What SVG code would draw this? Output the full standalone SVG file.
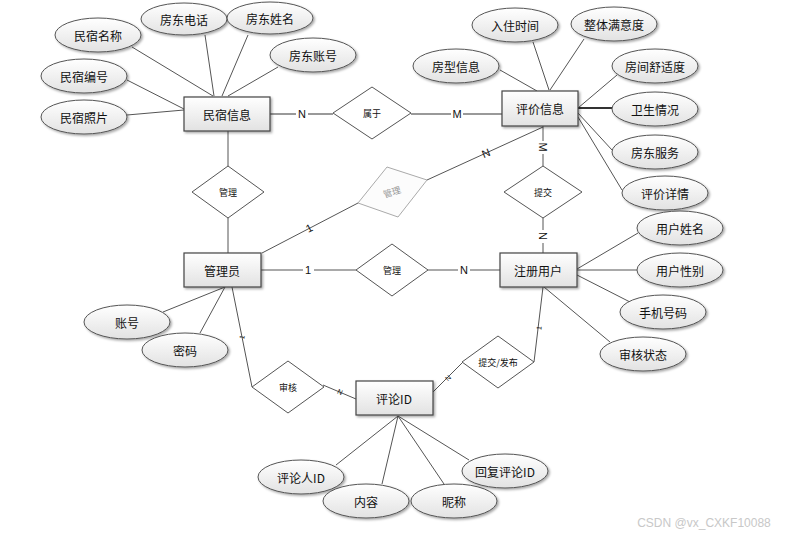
<svg xmlns="http://www.w3.org/2000/svg" width="788" height="541" viewBox="0 0 788 541">
<defs>
<linearGradient id="g" x1="0" y1="0" x2="0" y2="1"><stop offset="0" stop-color="#ffffff"/><stop offset="1" stop-color="#e2e2e2"/></linearGradient>
<filter id="sh" x="-20%" y="-20%" width="150%" height="160%"><feDropShadow dx="1.5" dy="1.5" stdDeviation="1" flood-color="#000" flood-opacity="0.35"/></filter>
<style>
.e{fill:url(#g);stroke:#555;stroke-width:1;filter:url(#sh)}
.r{fill:url(#g);stroke:#444;stroke-width:1.2;filter:url(#sh)}
.d{fill:#fff;stroke:#555;stroke-width:1}
.dg{fill:#fcfcfc;stroke:#aaa;stroke-width:1}
.t{font-family:"Noto Sans CJK SC","Liberation Sans",sans-serif;font-size:12px;fill:#111;text-anchor:middle;dominant-baseline:central}
.s{font-family:"Noto Sans CJK SC","Liberation Sans",sans-serif;font-size:9px;fill:#111;text-anchor:middle;dominant-baseline:central}
.l{font-family:"Liberation Sans",sans-serif;font-size:11px;fill:#111;text-anchor:middle;dominant-baseline:central}
.c line{stroke:#555;stroke-width:1}
.c .th{stroke:#999;stroke-width:2}
</style>
</defs>
<rect width="788" height="541" fill="#fff"/>
<g id="connectors" class="c">
<line x1="213" y1="96" x2="132" y2="47"/>
<line x1="214" y1="96" x2="205" y2="35"/>
<line x1="222" y1="96" x2="248" y2="35"/>
<line x1="228" y1="96" x2="278" y2="67"/>
<line x1="184" y1="109" x2="127" y2="80"/>
<line x1="184" y1="110" x2="127" y2="115"/>
<line class="th" x1="270" y1="114" x2="333" y2="114"/>
<line class="th" x1="411" y1="114" x2="502" y2="114"/>
<line x1="549" y1="90" x2="533" y2="42"/>
<line x1="550" y1="90" x2="584" y2="39"/>
<line x1="537" y1="91" x2="500" y2="70"/>
<line x1="578" y1="108" x2="617" y2="75"/>
<line x1="578" y1="108" x2="612" y2="108" style="stroke-width:2;stroke:#333"/>
<line x1="578" y1="113" x2="612" y2="150"/>
<line x1="578" y1="117" x2="622" y2="190"/>
<line x1="543" y1="126" x2="543" y2="166"/>
<line x1="543" y1="218" x2="543" y2="253"/>
<line x1="543" y1="127" x2="427" y2="180"/>
<line x1="262" y1="253" x2="358" y2="203"/>
<line x1="228" y1="131" x2="228" y2="166"/>
<line x1="228" y1="218" x2="228" y2="253"/>
<line x1="261" y1="270" x2="356" y2="270"/>
<line x1="428" y1="270" x2="500" y2="270"/>
<line x1="577" y1="269" x2="638" y2="233"/>
<line x1="577" y1="270" x2="637" y2="270"/>
<line x1="577" y1="275" x2="630" y2="302"/>
<line x1="544" y1="287" x2="610" y2="342"/>
<line x1="225" y1="287" x2="163" y2="312"/>
<line x1="225" y1="287" x2="200" y2="333"/>
<line x1="232" y1="287" x2="252" y2="387"/>
<line x1="323" y1="385" x2="356" y2="399"/>
<line x1="433" y1="392" x2="463" y2="362"/>
<line x1="534" y1="362" x2="543" y2="287"/>
<line x1="398" y1="416" x2="336" y2="465"/>
<line x1="398" y1="416" x2="382" y2="484"/>
<line x1="398" y1="416" x2="444" y2="484"/>
<line x1="398" y1="416" x2="469" y2="460"/>
</g>
<g id="labels">
<rect x="296" y="107" width="12" height="14" fill="#fff"/>
<text class="l" x="302" y="114">N</text>
<rect x="451" y="107" width="12" height="14" fill="#fff"/>
<text class="l" x="457" y="114">M</text>
<rect x="537" y="141" width="12" height="13" fill="#fff"/>
<text class="l" x="543" y="147" transform="rotate(90 543 147)">M</text>
<rect x="537" y="230" width="12" height="13" fill="#fff"/>
<text class="l" x="543" y="236" transform="rotate(90 543 236)">N</text>
<text class="l" x="486" y="153" transform="rotate(-22 486 153)">N</text>
<text class="l" x="309" y="228" transform="rotate(-28 309 228)">1</text>
<rect x="303" y="263" width="11" height="14" fill="#fff"/>
<text class="l" x="308" y="270">1</text>
<rect x="458" y="263" width="12" height="14" fill="#fff"/>
<text class="l" x="464" y="270">N</text>
<text class="l" x="242" y="337" style="font-size:7px" transform="rotate(-78 242 337)">1</text>
<text class="l" x="340" y="392" style="font-size:7px" transform="rotate(23 340 392)">N</text>
<text class="l" x="448" y="378" style="font-size:7px" transform="rotate(-45 448 378)">N</text>
<text class="l" x="539" y="328" style="font-size:7px" transform="rotate(-83 539 328)">1</text>
</g>
<g id="民宿信息"><rect class="r" x="184" y="97" width="86" height="34"/><text class="t" x="227" y="114">民宿信息</text></g>
<g id="民宿名称"><ellipse class="e" cx="98" cy="35" rx="43" ry="17"/><text class="t" x="98" y="35">民宿名称</text></g>
<g id="房东电话"><ellipse class="e" cx="184" cy="19" rx="43" ry="16"/><text class="t" x="184" y="19">房东电话</text></g>
<g id="房东姓名"><ellipse class="e" cx="270" cy="18" rx="43" ry="16"/><text class="t" x="270" y="18">房东姓名</text></g>
<g id="房东账号"><ellipse class="e" cx="313" cy="55" rx="43" ry="17"/><text class="t" x="313" y="55">房东账号</text></g>
<g id="民宿编号"><ellipse class="e" cx="84" cy="76" rx="43" ry="17"/><text class="t" x="84" y="76">民宿编号</text></g>
<g id="民宿照片"><ellipse class="e" cx="84" cy="117" rx="43" ry="17"/><text class="t" x="84" y="117">民宿照片</text></g>
<g id="属于"><polygon class="d" points="333,113 372,87 411,113 372,139"/><text class="s" x="372" y="113">属于</text></g>
<g id="评价信息"><rect class="r" x="502" y="91" width="76" height="35"/><text class="t" x="540" y="108">评价信息</text></g>
<g id="入住时间"><ellipse class="e" cx="515" cy="25" rx="43" ry="17"/><text class="t" x="515" y="25">入住时间</text></g>
<g id="整体满意度"><ellipse class="e" cx="614" cy="24" rx="43" ry="17"/><text class="t" x="614" y="24">整体满意度</text></g>
<g id="房型信息"><ellipse class="e" cx="456" cy="66" rx="43" ry="17"/><text class="t" x="456" y="66">房型信息</text></g>
<g id="房间舒适度"><ellipse class="e" cx="655" cy="66" rx="43" ry="17"/><text class="t" x="655" y="66">房间舒适度</text></g>
<g id="卫生情况"><ellipse class="e" cx="655" cy="109" rx="43" ry="17"/><text class="t" x="655" y="109">卫生情况</text></g>
<g id="房东服务"><ellipse class="e" cx="655" cy="152" rx="43" ry="17"/><text class="t" x="655" y="152">房东服务</text></g>
<g id="评价详情"><ellipse class="e" cx="665" cy="193" rx="43" ry="17"/><text class="t" x="665" y="193">评价详情</text></g>
<g id="提交"><polygon class="d" points="504,192 543,166 582,192 543,218"/><text class="s" x="543" y="192">提交</text></g>
<g id="管理1"><polygon class="d" points="192,192 228,166 264,192 228,218"/><text class="s" x="228" y="192">管理</text></g>
<g id="管理2"><polygon class="dg" points="358,203 387,167 427,180 398,217"/><text class="s" x="392" y="192" style="fill:#999" transform="rotate(-18 392 192)">管理</text></g>
<g id="管理员"><rect class="r" x="184" y="253" width="77" height="34"/><text class="t" x="222" y="270">管理员</text></g>
<g id="管理3"><polygon class="d" points="356,270 392,244 428,270 392,296"/><text class="s" x="392" y="270">管理</text></g>
<g id="注册用户"><rect class="r" x="500" y="253" width="77" height="34"/><text class="t" x="538" y="270">注册用户</text></g>
<g id="用户姓名"><ellipse class="e" cx="680" cy="228" rx="43" ry="17"/><text class="t" x="680" y="228">用户姓名</text></g>
<g id="用户性别"><ellipse class="e" cx="680" cy="270" rx="43" ry="17"/><text class="t" x="680" y="270">用户性别</text></g>
<g id="手机号码"><ellipse class="e" cx="663" cy="312" rx="43" ry="17"/><text class="t" x="663" y="312">手机号码</text></g>
<g id="审核状态"><ellipse class="e" cx="643" cy="354" rx="43" ry="17"/><text class="t" x="643" y="354">审核状态</text></g>
<g id="账号"><ellipse class="e" cx="127" cy="322" rx="43" ry="17"/><text class="t" x="127" y="322">账号</text></g>
<g id="密码"><ellipse class="e" cx="185" cy="350" rx="43" ry="17"/><text class="t" x="185" y="350">密码</text></g>
<g id="审核"><polygon class="d" points="252,387 288,361 324,387 288,413"/><text class="s" x="288" y="387">审核</text></g>
<g id="提交发布"><polygon class="d" points="462,362 498,336 534,362 498,388"/><text class="s" x="498" y="362">提交/发布</text></g>
<g id="评论ID"><rect class="r" x="356" y="381" width="77" height="34"/><text class="t" x="394" y="398">评论ID</text></g>
<g id="评论人ID"><ellipse class="e" cx="301" cy="477" rx="43" ry="17"/><text class="t" x="301" y="477">评论人ID</text></g>
<g id="内容"><ellipse class="e" cx="366" cy="501" rx="43" ry="17"/><text class="t" x="366" y="501">内容</text></g>
<g id="昵称"><ellipse class="e" cx="454" cy="501" rx="43" ry="17"/><text class="t" x="454" y="501">昵称</text></g>
<g id="回复评论ID"><ellipse class="e" cx="505" cy="471" rx="43" ry="17"/><text class="t" x="505" y="471">回复评论ID</text></g>
<text x="704" y="527" style="font-family:'Liberation Sans',sans-serif;font-size:12px;fill:#c8c8c8;text-anchor:middle">CSDN @vx_CXKF10088</text>
</svg>
